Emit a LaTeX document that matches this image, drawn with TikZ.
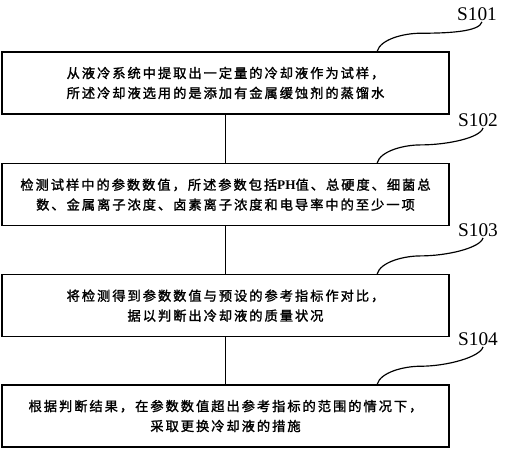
\documentclass[tikz,border=0pt]{standalone}
\usepackage{fontspec}
\setmainfont{Liberation Serif}
\newfontfamily\cjk{Noto Sans CJK SC}[LetterSpace=15,FakeBold=1.6]
\usetikzlibrary{calc}

\tikzset{
  stepbox/.style={draw,line width=1.3pt,minimum width=13.41cm,minimum height=1.86cm,
    align=center,inner sep=0pt,font={\cjk\fontsize{11.3pt}{17pt}\selectfont}},
  steplabel/.style={font={\fontsize{16.5pt}{18pt}\selectfont},inner sep=1pt},
  link/.style={line width=1.2pt},
  leader/.style={line width=1pt}
}

\begin{document}
\begin{tikzpicture}
  \useasboundingbox (0,0) rectangle (15.24,13.5);

  % Steps
  \node[stepbox] (s1) at (6.765,11.01) {从液冷系统中提取出一定量的冷却液作为试样，\\所述冷却液选用的是添加有金属缓蚀剂的蒸馏水};
  \node[stepbox] (s2) at (6.765,7.66) {检测试样中的参数数值，所述参数包括{\rmfamily\bfseries PH}值、总硬度、细菌总\\数、金属离子浓度、卤素离子浓度和电导率中的至少一项};
  \node[stepbox] (s3) at (6.765,4.33) {将检测得到参数数值与预设的参考指标作对比，\\据以判断出冷却液的质量状况};
  \node[stepbox] (s4) at (6.765,1.02) {根据判断结果，在参数数值超出参考指标的范围的情况下，\\采取更换冷却液的措施};

  % Step numbers
  \node[steplabel] (l1) at (14.31,13.08) {S101};
  \node[steplabel] (l2) at (14.34,9.9) {S102};
  \node[steplabel] (l3) at (14.34,6.6) {S103};
  \node[steplabel] (l4) at (14.34,3.33) {S104};

  % Flow
  \draw[link] (s1.south) -- (s2.north);
  \draw[link] (s2.south) -- (s3.north);
  \draw[link] (s3.south) -- (s4.north);

  % Leaders to the step numbers
  \foreach \i in {1,2,3,4} {
    \coordinate (c\i) at ($(s\i.north)+(4.55,0)$);
    \draw[leader] (c\i) .. controls +(0.1,0.36) and +(-0.5,0) .. ++(1.3,0.54)
      .. controls +(0.8,0) and +(-0.08,-0.3) .. ([xshift=0.15cm]l\i.south);
  }
\end{tikzpicture}
\end{document}
